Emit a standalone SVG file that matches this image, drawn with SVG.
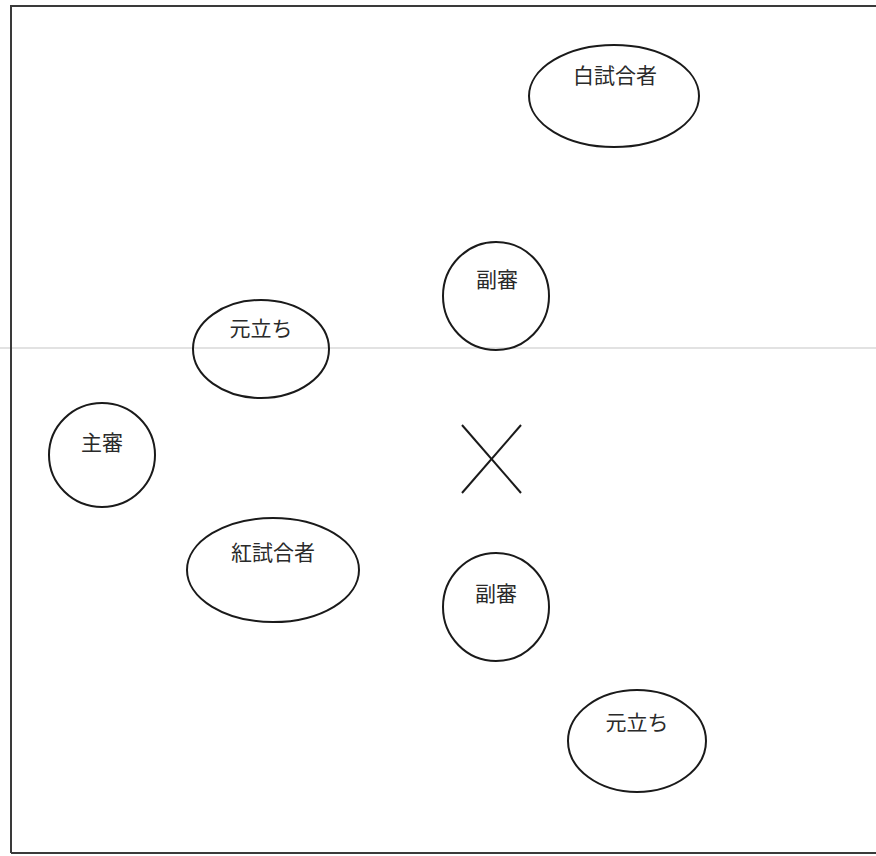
<svg xmlns="http://www.w3.org/2000/svg" width="876" height="856" viewBox="0 0 876 856">
<style>
.n{fill:none;stroke:#1a1a1a;stroke-width:2}
.t{font-family:"Noto Sans CJK JP","Noto Sans CJK SC",sans-serif;font-size:21px;fill:#2a2a2a;text-anchor:middle}
.x{stroke:#1a1a1a;stroke-width:2}
</style>
<rect x="0" y="0" width="876" height="856" fill="#fff"/>
<line x1="0" y1="348" x2="876" y2="348" stroke="#e2e2e2" stroke-width="2"/>
<path d="M11 853 V6 H880" fill="none" stroke="#3a3a3a" stroke-width="2"/>
<line x1="11" y1="853" x2="880" y2="853" stroke="#3a3a3a" stroke-width="2"/>
<g id="shiro"><ellipse class="n" cx="614" cy="96" rx="85" ry="51"/><text class="t" x="615" y="83">白試合者</text></g>
<g id="fukushin1"><ellipse class="n" cx="496" cy="296" rx="53" ry="54"/><text class="t" x="497" y="287">副審</text></g>
<g id="motodachi1"><ellipse class="n" cx="261" cy="349" rx="68" ry="49"/><text class="t" x="261" y="336">元立ち</text></g>
<g id="shushin"><ellipse class="n" cx="102" cy="455" rx="53" ry="52"/><text class="t" x="102" y="450">主審</text></g>
<g id="aka"><ellipse class="n" cx="273" cy="570" rx="86" ry="52"/><text class="t" x="273" y="560">紅試合者</text></g>
<g id="fukushin2"><ellipse class="n" cx="496" cy="607" rx="53" ry="54"/><text class="t" x="496" y="601">副審</text></g>
<g id="motodachi2"><ellipse class="n" cx="637" cy="741" rx="69" ry="51"/><text class="t" x="637" y="730">元立ち</text></g>
<g id="connectors">
<line class="x" x1="462" y1="425" x2="521" y2="493"/>
<line class="x" x1="521" y1="425" x2="462" y2="493"/>
</g>
</svg>
